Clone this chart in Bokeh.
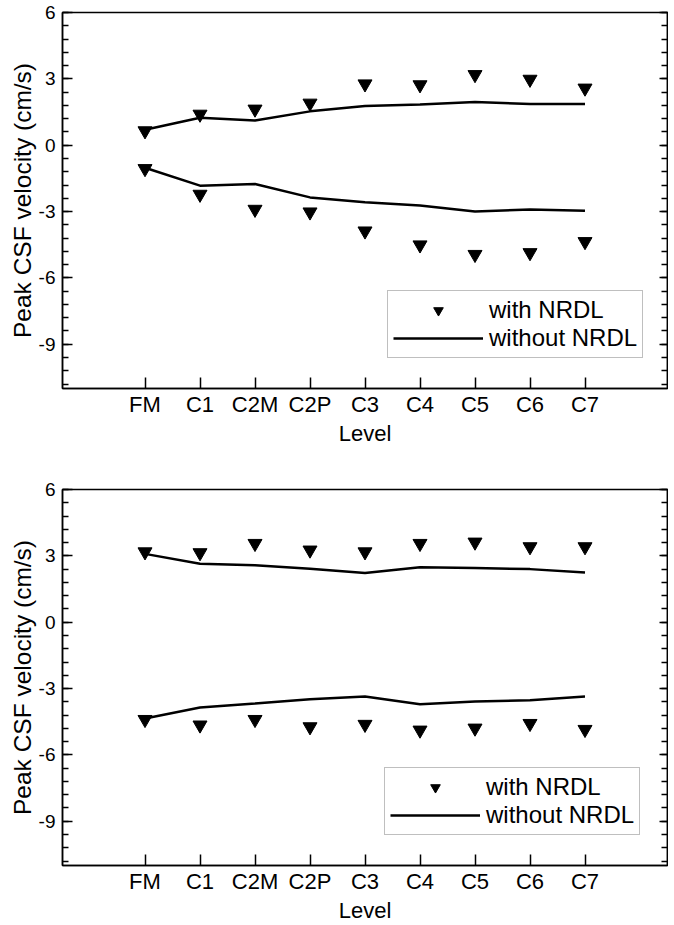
from bokeh.plotting import figure
from bokeh.models import (FactorRange, Range1d, LinearAxis, SingleIntervalTicker,
                          Legend, LegendItem, PrintfTickFormatter, CustomLabelingPolicy)
from bokeh.layouts import column
from bokeh.embed import file_html
from bokeh.resources import INLINE

levels = ["FM", "C1", "C2M", "C2P", "C3", "C4", "C5", "C6", "C7"]

# top panel
with_pos_a = [0.65, 1.40, 1.63, 1.90, 2.77, 2.73, 3.19, 2.98, 2.58]
with_neg_a = [-1.06, -2.22, -2.90, -3.02, -3.88, -4.51, -4.94, -4.86, -4.36]
without_pos_a = [0.70, 1.24, 1.12, 1.53, 1.77, 1.84, 1.95, 1.86, 1.86]
without_neg_a = [-1.02, -1.83, -1.75, -2.36, -2.58, -2.73, -3.00, -2.91, -2.96]

# bottom panel
with_pos_b = [3.18, 3.14, 3.56, 3.26, 3.18, 3.56, 3.62, 3.41, 3.41]
with_neg_b = [-4.40, -4.65, -4.40, -4.73, -4.62, -4.88, -4.79, -4.58, -4.85]
without_pos_b = [3.09, 2.64, 2.58, 2.42, 2.22, 2.49, 2.45, 2.40, 2.25]
without_neg_b = [-4.35, -3.86, -3.68, -3.48, -3.36, -3.71, -3.59, -3.53, -3.36]

y_ticks_interval = 3
y_min, y_max = -11, 6
FONT = "Liberation Sans"


def make_panel(wp, wn, op, on, height, top, bottom, legend_xy):
    p = figure(width=668, height=height, output_backend="svg", toolbar_location=None,
               x_range=FactorRange(factors=levels, range_padding=1.0,
                                   range_padding_units="absolute"),
               y_range=Range1d(y_min, y_max),
               min_border_left=62, min_border_right=1,
               min_border_top=top, min_border_bottom=bottom)
    p.grid.visible = False
    p.outline_line_color = "black"
    p.outline_line_width = 1.5
    p.background_fill_color = "white"
    p.border_fill_color = "white"

    l1 = p.line(levels, op, line_color="black", line_width=2.5)
    p.line(levels, on, line_color="black", line_width=2.5)
    s1 = p.scatter(levels, wp, marker="inverted_triangle", size=14,
                   fill_color="black", line_color="black")
    p.scatter(levels, wn, marker="inverted_triangle", size=14,
              fill_color="black", line_color="black")

    # x axis
    xa = p.xaxis[0]
    xa.axis_label = "Level"
    xa.axis_label_text_font = FONT
    xa.axis_label_text_font_style = "normal"
    xa.axis_label_text_font_size = "22px"
    xa.axis_label_standoff = 1
    xa.major_label_text_font = FONT
    xa.major_label_text_font_size = "22px"
    xa.major_label_standoff = 3
    xa.major_tick_in = 11
    xa.major_tick_out = 0
    xa.major_tick_line_width = 1.5
    xa.axis_line_width = 1.5
    xa.axis_line_color = "black"
    xa.major_label_text_color = "black"
    xa.axis_label_text_color = "black"

    # y axis
    ya = p.yaxis[0]
    ya.ticker = SingleIntervalTicker(interval=y_ticks_interval, num_minor_ticks=5)
    ya.formatter = PrintfTickFormatter(format="%d")
    ya.axis_label = "Peak CSF velocity (cm/s)"
    ya.axis_label_text_font = FONT
    ya.axis_label_text_font_style = "normal"
    ya.axis_label_text_font_size = "24.5px"
    ya.axis_label_standoff = 0
    ya.major_label_text_font = FONT
    ya.major_label_text_font_size = "19px"
    ya.major_label_standoff = 7
    ya.major_tick_in = 10
    ya.major_tick_out = 0
    ya.minor_tick_in = 6
    ya.minor_tick_out = 0
    ya.major_tick_line_width = 1.5
    ya.minor_tick_line_width = 1.5
    ya.axis_line_width = 1.5
    ya.axis_line_color = "black"
    ya.major_label_text_color = "black"
    ya.axis_label_text_color = "black"

    # right mirror axis (ticks only, no labels)
    ra = LinearAxis(ticker=SingleIntervalTicker(interval=y_ticks_interval, num_minor_ticks=5))
    ra.major_label_policy = CustomLabelingPolicy(
        code="const all = [...indices]; for (const i of all) indices.unset(i); return indices")
    ra.major_label_text_font_size = "0px"
    ra.major_label_standoff = 0
    ra.major_tick_in = 8
    ra.major_tick_out = 0
    ra.minor_tick_in = 6
    ra.minor_tick_out = 0
    ra.major_tick_line_width = 1.5
    ra.minor_tick_line_width = 1.5
    ra.axis_line_width = 1.5
    p.add_layout(ra, "right")

    legend = Legend(items=[LegendItem(label="with NRDL", renderers=[s1]),
                           LegendItem(label="without NRDL", renderers=[l1])],
                    location=legend_xy)
    legend.label_text_font = FONT
    legend.label_text_font_size = "24px"
    legend.label_text_color = "black"
    legend.glyph_width = 90
    legend.glyph_height = 24
    legend.label_height = 24
    legend.label_width = 148
    legend.label_standoff = 6
    legend.padding = 5
    legend.spacing = 0
    legend.margin = 0
    legend.border_line_color = "#808080"
    legend.border_line_width = 1
    legend.background_fill_alpha = 1.0
    p.add_layout(legend)
    return p


p1 = make_panel(with_pos_a, with_neg_a, without_pos_a, without_neg_a,
                height=478, top=12, bottom=90, legend_xy=(325, 30))
p2 = make_panel(with_pos_b, with_neg_b, without_pos_b, without_neg_b,
                height=447, top=11, bottom=59, legend_xy=(322, 30))

layout = column(p1, p2, spacing=0)
open("out.html", "w").write(file_html(layout, INLINE))
